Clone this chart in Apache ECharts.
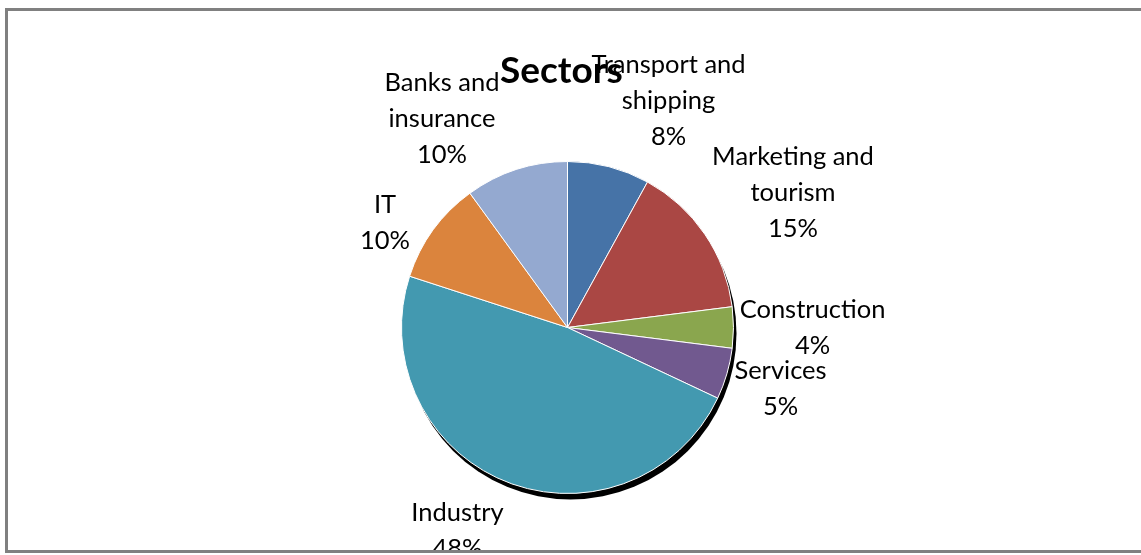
<!DOCTYPE html>
<html>
<head>
<meta charset="utf-8">
<script src="https://cdn.jsdelivr.net/npm/echarts@6/dist/echarts.min.js"></script>
<style>
  html, body { margin: 0; padding: 0; background: #ffffff; }
  #chart { width: 1141px; height: 555px; }
</style>
</head>
<body>
<div id="chart"></div>
<script>
// Share of companies per sector (percent), clockwise from 12 o'clock
const sectors = ['Transport and shipping', 'Marketing and tourism', 'Construction', 'Services', 'Industry', 'IT', 'Banks and insurance'];
const shares = [8, 15, 4, 5, 48, 10, 10];
const sectorColors = ['#4673A7', '#AA4744', '#8AA64E', '#71598F', '#4399B0', '#DB843D', '#94A9D0'];

const chartTitle = 'Sectors';

// Pie geometry
const CX = 567.5, CY = 327.5, R = 166;
// Label block centres, relative to the pie centre
const labelOffsets = [
  [101, -227], [225.5, -134.5], [245, 0.5], [213, 61],
  [-110, 203], [-182.5, -105], [-125.5, -208.5]
];

const chart = echarts.init(document.getElementById('chart'), null, { renderer: 'canvas' });

chart.setOption({
  animation: false,
  backgroundColor: '#ffffff',
  title: {
    text: chartTitle,
    left: 495,
    top: 48,
    textStyle: { fontFamily: 'Lato', fontWeight: 'bold', fontSize: 37, color: '#000000' }
  },
  series: [
    {
      // drop shadow behind the pie
      type: 'pie',
      silent: true,
      z: 1,
      center: [CX + 3, CY + 6],
      radius: R,
      label: { show: false },
      labelLine: { show: false },
      itemStyle: { color: '#000000' },
      data: [{ value: 1, name: '' }]
    },
    {
      type: 'pie',
      silent: true,
      z: 2,
      center: [CX, CY],
      radius: R,
      startAngle: 90,
      clockwise: true,
      data: sectors.map((s, i) => ({ name: s, value: shares[i], itemStyle: { color: sectorColors[i] } })),
      itemStyle: { borderColor: '#ffffff', borderWidth: 1 },
      label: {
        show: true,
        position: 'outside',
        fontFamily: 'Lato',
        fontSize: 25.5,
        lineHeight: 36,
        color: '#000000',
        formatter: p => p.name.replace(' and ', ' and\n') + '\n' + p.value + '%'
      },
      labelLine: { show: false },
      labelLayout: params => {
        const o = labelOffsets[params.dataIndex];
        return { x: CX + o[0], y: CY + o[1], align: 'center', verticalAlign: 'middle' };
      }
    }
  ],
  graphic: [
    {
      type: 'rect',
      z: 100,
      silent: true,
      shape: { x: 0, y: 553, width: 1141, height: 10 },
      style: { fill: '#ffffff' }
    },
    {
      type: 'rect',
      z: 101,
      silent: true,
      shape: { x: 6.5, y: 9.5, width: 1150, height: 542 },
      style: { fill: 'none', stroke: '#808080', lineWidth: 3 }
    }
  ]
});
</script>
</body>
</html>
